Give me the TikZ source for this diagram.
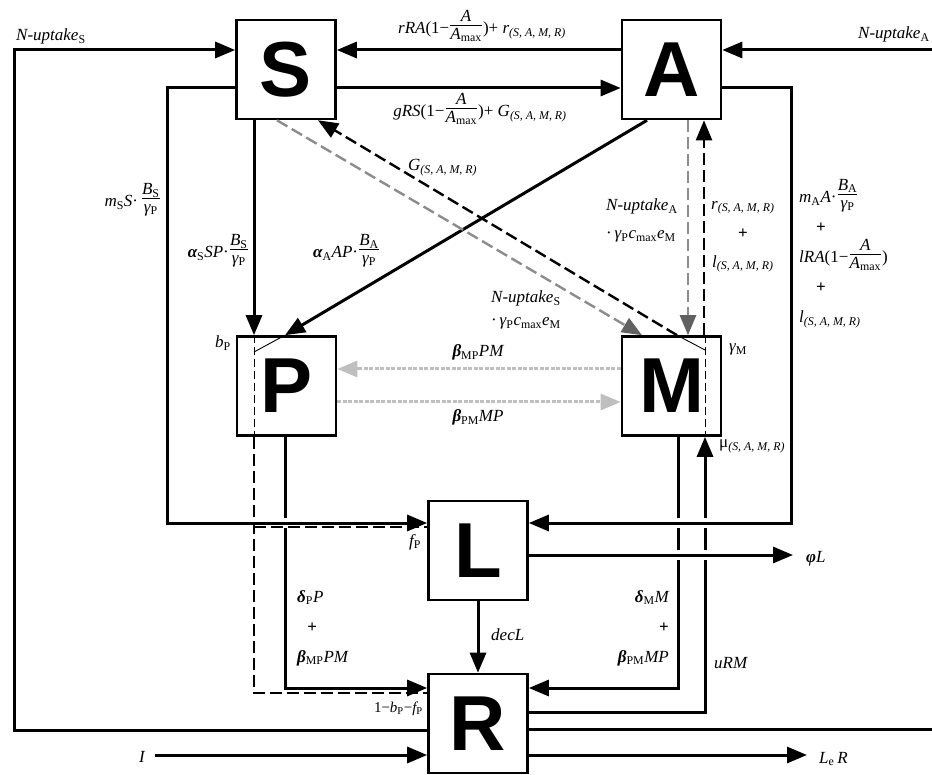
\documentclass[tikz,border=0pt]{standalone}
\usepackage{fontspec}
\setmainfont{Liberation Serif}
\newfontfamily\boxfont{Liberation Sans}
\usetikzlibrary{arrows.meta}
\newcommand\sub[1]{\textsubscript{\upshape #1}}
\newcommand\samr{\textsubscript{\itshape (S, A, M, R)}}
\newcommand\fr[2]{\raisebox{4.5pt}{$\frac{\hbox{\fontsize{17}{16}\selectfont\itshape #1\rule[-3pt]{0pt}{0pt}}}{\hbox{\fontsize{17}{16}\selectfont\itshape\rule{0pt}{13.5pt}#2}}$}}
\newcommand\bgr[1]{{\bfseries #1}}

\begin{document}
\begin{tikzpicture}[
        x=1pt,y=-1pt,
        box/.style={draw,line width=2.6pt,minimum size=99pt,inner sep=0pt,
          font=\boxfont\bfseries\fontsize{78}{78}\selectfont},
        lbl/.style={inner sep=1pt,font=\fontsize{17}{20}\selectfont\itshape},
        pipe/.style={line width=3pt},
        flow/.style={-{Triangle[length=20pt,width=16pt]},line width=3pt},
        bridge/.style={preaction={draw=white,line width=10pt,-,shorten <=3pt,shorten >=3pt}},
        recycle/.style={-{Triangle[length=20pt,width=16pt]},line width=2.4pt,
          dash pattern=on 12pt off 5pt},
        uptake/.style={-{Triangle[length=20pt,width=16pt,color=black!62]},line width=2.4pt,
          draw=black!45,dash pattern=on 12pt off 5pt},
        contact/.style={-{Triangle[length=20pt,width=16pt]},line width=3pt,
          draw=black!25,dash pattern=on 4pt off 1.5pt},
        split/.style={line width=2.2pt,dash pattern=on 12pt off 5pt},
        inner/.style={line width=.9pt},
        innerdash/.style={line width=.9pt,dash pattern=on 8pt off 4pt}
      ]
        \useasboundingbox (0,0) rectangle (932,775);

        \node[box] (S) at (286,69.5) {S};
        \node[box] (A) at (671.5,69.5) {A};
        \node[box] (P) at (286.5,386) {P};
        \node[box] (M) at (671.5,386) {M};
        \node[box] (L) at (478,550.5) {L};
        \node[box] (R) at (478,723.5) {R};

        \coordinate (nsS) at (14,50);
        \coordinate (inA) at (932,50);
        \coordinate (outA) at (932,729);
        \coordinate (phiend) at (793,555);
        \coordinate (leend) at (807,755);
        \coordinate (Iend) at (155,755);

        % exchange between S and A
        \draw[flow] (A.west |- 0,50) -- (S.east |- 0,50);
        \draw[flow] (S.east |- 0,88) -- (A.west |- 0,88);

        % uptake from R
        \draw[flow] (R.west |- 0,730) -| (nsS) -- (S.west |- nsS);
        \draw[flow] (inA) -- (A.east |- inA);
        \draw[pipe] (R.east |- outA) -- (outA);

        % grazing
        \draw[flow] (S.south -| 254,0) -- (P.north -| 254,0);
        \draw[flow] (A.south -| 647,0) -- (P.north -| 285,0);

        \draw[uptake] (S.south -| 277,0) -- (M.north -| 642,0);
        \draw[uptake] (A.south -| 688,0) -- (M.north -| 688,0);
        \draw[recycle] (M.north -| 677,0) -- (S.south -| 318,0);
        \draw[recycle] (M.north -| 704,0) -- (A.south -| 704,0);

        \draw[inner] (P.north -| 285,0) -- (254,352);
        \draw[innerdash] (P.north -| 254,0) -- (P.south -| 254,0);
        \draw[inner] (M.north -| 677,0) -- (705,350);
        \draw[innerdash] (M.north -| 705,0) -- (M.south -| 705,0);

        \draw[contact] (M.west |- 0,369) -- (P.east |- 0,369);
        \draw[contact] (P.east |- 0,402) -- (M.west |- 0,402);

        % to R, under the bridged lines
        \draw[flow] (P.south -| 285,0) |- (R.west |- 0,688);
        \draw[flow] (M.south -| 678,0) |- (R.east |- 0,688);
        \draw[flow] (R.east |- 0,712) -| (M.south -| 705,0);

        \draw[flow,bridge] (S.west |- 0,88) -| (167,523) -- (L.west |- 0,523);
        \draw[flow,bridge] (A.east |- 0,88) -| (791,523) -- (L.east |- 0,523);
        \draw[flow,bridge] (L.east |- phiend) -- (phiend);
        \draw[flow] (L) -- (R);

        \draw[split] (P.south -| 254,0) |- (R.west |- 0,693);
        \draw[split] (254,527) -- (L.west |- 0,527);

        \draw[flow] (Iend) -- (R.west |- Iend);
        \draw[flow] (R.east |- leend) -- (leend);

        % labels
        \node[lbl,anchor=base west] (nS) at (15,41) {N-uptake\sub{S}};
        \node[lbl,anchor=base west] (nA) at (857,39) {N-uptake\sub{A}};
        \node[lbl,anchor=base] (rRA) at (482,34)
          {rRA{\upshape(1−}\fr{A}{A\sub{max}}{\upshape)+} r\samr};
        \node[lbl,anchor=base] (gRS) at (480,117)
          {gRS{\upshape(1−}\fr{A}{A\sub{max}}{\upshape)+} G\samr};
        \node[lbl,anchor=base east] (mS) at (162,207) {m\sub{S}S{\upshape·}\,\fr{B\sub{S}}{γ\sub{P}}};
        \node[lbl,anchor=base east] (aS) at (250,258) {\bgr{α}\sub{S}SP{\upshape·}\fr{B\sub{S}}{γ\sub{P}}};
        \node[lbl,anchor=base west] (aA) at (312,258) {\bgr{α}\sub{A}AP{\upshape·}\fr{B\sub{A}}{γ\sub{P}}};
        \node[lbl,anchor=base west] (gSM) at (407,171) {G\samr};
        \node[lbl,anchor=north west,align=left,font=\fontsize{17}{23}\selectfont\itshape]
          (nuS) at (490,290) {N-uptake\sub{S}\\ {\upshape·}\,γ\sub{P}c\sub{max}e\sub{M}};
        \node[lbl,anchor=north west,align=left,font=\fontsize{17}{28}\selectfont\itshape]
          (nuA) at (605,198) {N-uptake\sub{A}\\ {\upshape·}\,γ\sub{P}c\sub{max}e\sub{M}};
        \node[lbl,anchor=north west,align=center,font=\fontsize{17}{29}\selectfont\itshape]
          (rl) at (710,200) {r\samr\\ {\upshape\bfseries +}\\ l\samr};
        \node[lbl,anchor=north west,align=left,font=\fontsize{17}{30}\selectfont\itshape]
          (mA) at (798,178) {m\sub{A}A{\upshape·}\fr{B\sub{A}}{γ\sub{P}}\\
            \hspace{1em}{\upshape\bfseries +}\\ lRA{\upshape(1−}\fr{A}{A\sub{max}}{\upshape)}\\
            \hspace{1em}{\upshape\bfseries +}\\ l\samr};
        \node[lbl,anchor=base east] (bP) at (232,348) {b\sub{P}};
        \node[lbl,anchor=base west] (gM) at (728,352) {γ\sub{M}};
        \node[lbl,anchor=base] (bMP) at (478,357) {\bgr{β}\sub{MP}PM};
        \node[lbl,anchor=base] (bPM) at (478,422) {\bgr{β}\sub{PM}MP};
        \node[lbl,anchor=base west] (mu) at (718,448) {{\upshape μ}\samr};
        \node[lbl,anchor=base west] (fP) at (408,546) {f\sub{P}};
        \node[lbl,anchor=north west,align=left,font=\fontsize{17}{30}\selectfont\itshape]
          (dP) at (296,589) {\bgr{δ}\sub{P}P\\ \hspace{.6em}{\upshape\bfseries +}\\ \bgr{β}\sub{MP}PM};
        \node[lbl,anchor=north east,align=right,font=\fontsize{17}{30}\selectfont\itshape]
          (dM) at (670,589) {\bgr{δ}\sub{M}M\\ {\upshape\bfseries +}\hspace{.9em}\\ \bgr{β}\sub{PM}MP};
        \node[lbl,anchor=base west] (decL) at (490,640) {decL};
        \node[lbl,anchor=base west] (uRM) at (713,668) {uRM};
        \node[lbl,anchor=base west] (phiL) at (805,562) {\bgr{φ}L};
        \node[lbl,anchor=base west] (LeR) at (818,763) {L\textsubscript{\upshape e}\,R};
        \node[lbl,anchor=base east,font=\fontsize{15}{18}\selectfont\itshape] (bf) at (424,712)
          {{\upshape 1−}b\sub{P}{\upshape −}f\sub{P}};
        \node[lbl,anchor=base east] (inI) at (146,762) {I};
      \end{tikzpicture}
\end{document}
